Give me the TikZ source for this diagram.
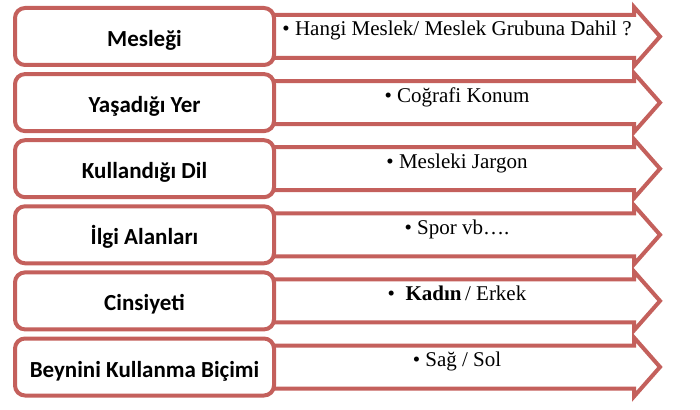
\documentclass[tikz,border=0pt]{standalone}
\usepackage{fontspec}
\setmainfont{Liberation Serif}
\newfontfamily\calibri{Carlito}
\usetikzlibrary{positioning,calc}
\definecolor{kiremit}{RGB}{196,96,92}
\tikzset{
 kutu/.style={draw=kiremit, line width=4pt, rounded corners=10pt, fill=white,
  minimum width=259pt, minimum height=57pt, inner sep=0pt,
  text height=20pt, text depth=0pt, font=\calibri\bfseries\fontsize{23}{23}\selectfont},
 ok/.style={draw=kiremit, line width=4pt, fill=white, line join=miter},
 bilgi/.style={anchor=base, inner sep=0pt, font=\fontsize{21}{21}\selectfont}
}

\begin{document}
\begin{tikzpicture}[x=1pt,y=-1pt]
\useasboundingbox (0,0) rectangle (700,409);
\foreach \i/\y/\ad/\not in {
 1/36.5/{Mesleği}/{• Hangi Meslek/ Meslek Grubuna Dahil ?},
 2/102.6/{Yaşadığı Yer}/{• Coğrafi Konum},
 3/168.7/{Kullandığı Dil}/{• Mesleki Jargon},
 4/234.8/{İlgi Alanları}/{• Spor vb….},
 5/300.9/{Cinsiyeti}/{•\ \ \textbf{Kadın}\,/ Erkek},
 6/367/{Beynini Kullanma Biçimi}/{• Sağ / Sol}} {
 \draw[ok] (200,\y-21.5) -- (634,\y-21.5) -- (634,\y-29.5) -- (660,\y)
  -- (634,\y+29.5) -- (634,\y+21.5) -- (200,\y+21.5) -- cycle;
 \node[kutu] (kutu\i) at (144.5,\y) {\ad};
 \node[bilgi] (not\i) at (457,\y-0.5) {\not};
}
\end{tikzpicture}
\end{document}
